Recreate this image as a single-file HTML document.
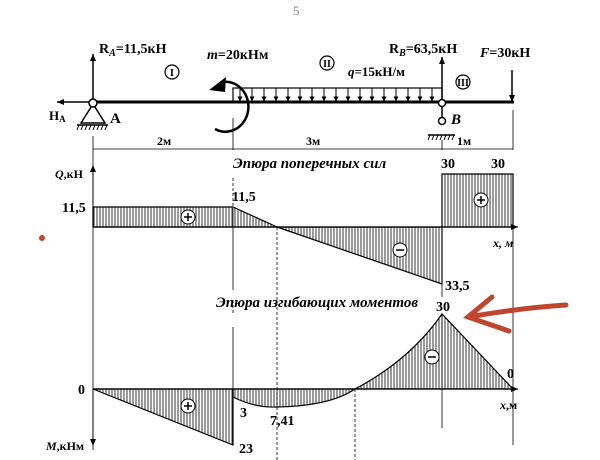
<!DOCTYPE html>
<html><head><meta charset="utf-8"><style>
html,body{margin:0;padding:0;background:#fff;width:600px;height:460px;overflow:hidden}
text{font-family:"Liberation Serif",serif;font-weight:bold;fill:#000}
</style></head><body>
<svg width="600" height="460" viewBox="0 0 600 460" xmlns="http://www.w3.org/2000/svg">
<defs>
<pattern id="h" width="3" height="10" patternUnits="userSpaceOnUse"><line x1="1" y1="0" x2="1" y2="10" stroke="#000" stroke-width="0.8"/></pattern>
<marker id="ar" markerWidth="8" markerHeight="8" refX="7" refY="4" orient="auto" markerUnits="userSpaceOnUse"><path d="M0,1 L7,4 L0,7 Z" fill="#000"/></marker>
<marker id="sa" markerWidth="5" markerHeight="5" refX="4.5" refY="2.5" orient="auto" markerUnits="userSpaceOnUse"><path d="M0,0 L5,2.5 L0,5 Z" fill="#000"/></marker>
</defs>
<text x="293" y="15" font-size="13" style="font-weight:normal;fill:#888">5</text>

<!-- beam -->
<line x1="93" y1="102" x2="514" y2="102" stroke="#000" stroke-width="3"/>
<line x1="93" y1="102" x2="57" y2="102" stroke="#000" stroke-width="1.5" marker-end="url(#ar)"/>
<line x1="93" y1="102" x2="93" y2="54" stroke="#000" stroke-width="1.5" marker-end="url(#ar)"/>
<path d="M93,104 L81,123 L105,123 Z" fill="none" stroke="#000" stroke-width="1.5"/>
<line x1="77" y1="125" x2="108" y2="125" stroke="#000" stroke-width="1.5"/>
<g stroke="#000" stroke-width="1"><line x1="79" y1="125" x2="77" y2="130"/><line x1="83" y1="125" x2="81" y2="130"/><line x1="87" y1="125" x2="85" y2="130"/><line x1="91" y1="125" x2="89" y2="130"/><line x1="95" y1="125" x2="93" y2="130"/><line x1="99" y1="125" x2="97" y2="130"/><line x1="103" y1="125" x2="101" y2="130"/><line x1="107" y1="125" x2="105" y2="130"/></g>
<circle cx="93" cy="103" r="4" fill="#fff" stroke="#000" stroke-width="1.5"/>
<!-- load -->
<rect x="233" y="88" width="209" height="14" fill="none" stroke="#000" stroke-width="1.2"/>
<g stroke="#000" stroke-width="1">
<line x1="240" y1="88" x2="240" y2="101" marker-end="url(#sa)"/><line x1="252" y1="88" x2="252" y2="101" marker-end="url(#sa)"/><line x1="264" y1="88" x2="264" y2="101" marker-end="url(#sa)"/><line x1="276" y1="88" x2="276" y2="101" marker-end="url(#sa)"/><line x1="288" y1="88" x2="288" y2="101" marker-end="url(#sa)"/><line x1="300" y1="88" x2="300" y2="101" marker-end="url(#sa)"/><line x1="312" y1="88" x2="312" y2="101" marker-end="url(#sa)"/><line x1="324" y1="88" x2="324" y2="101" marker-end="url(#sa)"/><line x1="336" y1="88" x2="336" y2="101" marker-end="url(#sa)"/><line x1="348" y1="88" x2="348" y2="101" marker-end="url(#sa)"/><line x1="360" y1="88" x2="360" y2="101" marker-end="url(#sa)"/><line x1="372" y1="88" x2="372" y2="101" marker-end="url(#sa)"/><line x1="384" y1="88" x2="384" y2="101" marker-end="url(#sa)"/><line x1="396" y1="88" x2="396" y2="101" marker-end="url(#sa)"/><line x1="408" y1="88" x2="408" y2="101" marker-end="url(#sa)"/><line x1="420" y1="88" x2="420" y2="101" marker-end="url(#sa)"/><line x1="432" y1="88" x2="432" y2="101" marker-end="url(#sa)"/>
</g>
<!-- moment -->
<path d="M215,129 A23,25 0 1 0 222,82" fill="none" stroke="#000" stroke-width="2.5"/>
<path d="M209,90 L226,77 L225,92 Z" fill="#000"/>
<!-- RB -->
<line x1="442" y1="102" x2="442" y2="57" stroke="#000" stroke-width="1.5" marker-end="url(#ar)"/>
<line x1="442" y1="104" x2="442" y2="119" stroke="#000" stroke-width="1.5"/>
<circle cx="442" cy="103" r="3.5" fill="#fff" stroke="#000" stroke-width="1.5"/>
<circle cx="442" cy="121" r="3.5" fill="#fff" stroke="#000" stroke-width="1.5"/>
<line x1="428" y1="135" x2="455" y2="135" stroke="#000" stroke-width="1.5"/>
<g stroke="#000" stroke-width="1"><line x1="430" y1="135" x2="428" y2="140"/><line x1="434" y1="135" x2="432" y2="140"/><line x1="438" y1="135" x2="436" y2="140"/><line x1="442" y1="135" x2="440" y2="140"/><line x1="446" y1="135" x2="444" y2="140"/><line x1="450" y1="135" x2="448" y2="140"/><line x1="454" y1="135" x2="452" y2="140"/></g>
<!-- F -->
<line x1="512" y1="70" x2="512" y2="102" stroke="#000" stroke-width="1.5" marker-end="url(#ar)"/>
<!-- dims -->
<g stroke="#000" stroke-width="0.8">
<line x1="93" y1="136" x2="93" y2="450"/><line x1="233" y1="118" x2="233" y2="150"/><line x1="442" y1="140" x2="442" y2="150"/><line x1="513" y1="110" x2="513" y2="150"/>
<line x1="93" y1="149" x2="513" y2="149"/>
</g>
<g font-size="14">
<text x="99" y="53">R<tspan font-size="10" font-style="italic" dy="3">A</tspan><tspan dy="-3">=11,5кН</tspan></text>
<text x="207" y="59"><tspan font-style="italic">m</tspan>=20кНм</text>
<text x="348" y="76" font-size="13"><tspan font-style="italic">q</tspan>=15кН/м</text>
<text x="389" y="53">R<tspan font-size="10" font-style="italic" dy="3">B</tspan><tspan dy="-3">=63,5кН</tspan></text>
<text x="480" y="57"><tspan font-style="italic">F</tspan>=30кН</text>
<text x="49" y="120" font-size="13">Н<tspan font-size="9" dy="2">А</tspan></text>
<text x="110" y="123" font-size="15">A</text>
<text x="451" y="124" font-size="15" font-style="italic">B</text>
<text x="157" y="145" font-size="12">2м</text>
<text x="306" y="145" font-size="12">3м</text>
<text x="457" y="145" font-size="12">1м</text>
</g>
<g stroke="#000" stroke-width="1.2">
<circle cx="172" cy="72" r="7" fill="#fff"/><circle cx="327" cy="63" r="7" fill="#fff"/><circle cx="463" cy="82" r="7" fill="#fff"/>
</g>
<g font-size="10" text-anchor="middle"><text x="172" y="76">I</text><text x="327" y="67">II</text><text x="463" y="86">III</text></g>

<!-- Q diagram -->
<line x1="233" y1="178" x2="233" y2="208" stroke="#000" stroke-width="0.8" stroke-dasharray="3,2"/>
<line x1="233" y1="208" x2="233" y2="290" stroke="#000" stroke-width="0.8"/>
<line x1="277" y1="227" x2="277" y2="460" stroke="#000" stroke-width="0.8" stroke-dasharray="3,2"/>
<line x1="442" y1="175" x2="442" y2="297" stroke="#000" stroke-width="0.8"/>
<line x1="513" y1="175" x2="513" y2="445" stroke="#000" stroke-width="0.8"/>
<path d="M93,227 L93,207 L233,207 L277,227 Z" fill="url(#h)" stroke="#000" stroke-width="1.2"/>
<path d="M277,227 L442,284 L442,227 Z" fill="url(#h)" stroke="#000" stroke-width="1.2"/>
<path d="M442,227 L442,174 L513,174 L513,227 Z" fill="url(#h)" stroke="#000" stroke-width="1.2"/>
<line x1="93" y1="227" x2="518" y2="227" stroke="#000" stroke-width="1.2" marker-end="url(#ar)"/>
<line x1="93" y1="227" x2="93" y2="165" stroke="#000" stroke-width="1" marker-end="url(#ar)"/>
<g fill="#fff" stroke="#000" stroke-width="1"><circle cx="188" cy="217" r="7"/><circle cx="400" cy="250" r="7"/><circle cx="481" cy="200" r="7"/></g>
<g stroke="#000" stroke-width="1.5"><line x1="184" y1="217" x2="192" y2="217"/><line x1="188" y1="213" x2="188" y2="221"/><line x1="396" y1="250" x2="404" y2="250"/><line x1="477" y1="200" x2="485" y2="200"/><line x1="481" y1="196" x2="481" y2="204"/></g>
<g font-size="14">
<text x="55" y="178" font-size="12"><tspan font-style="italic">Q</tspan>,кН</text>
<text x="233" y="168" font-style="italic" font-size="15">Эпюра поперечных сил</text>
<text x="62" y="212">11,5</text>
<text x="232" y="201">11,5</text>
<text x="441" y="168">30</text>
<text x="491" y="168">30</text>
<text x="445" y="290">33,5</text>
<text x="493" y="247" font-size="12" font-style="italic">x, м</text>
</g>

<!-- M diagram -->
<line x1="233" y1="300" x2="233" y2="315" stroke="#000" stroke-width="0.8" stroke-dasharray="3,2"/>
<line x1="233" y1="327" x2="233" y2="445" stroke="#000" stroke-width="0.8"/>
<line x1="355" y1="389" x2="355" y2="460" stroke="#000" stroke-width="0.8" stroke-dasharray="3,2"/>
<line x1="442" y1="314" x2="442" y2="428" stroke="#000" stroke-width="0.8"/>
<path d="M93,389 L233,445 L233,389 Z" fill="url(#h)" stroke="#000" stroke-width="1.2"/>
<path d="M233,389 L233,397 Q255,408 277,407 Q330,406 355,389 Z" fill="url(#h)" stroke="#000" stroke-width="1.2"/>
<path d="M355,389 Q410,360 442,314 L513,389 Z" fill="url(#h)" stroke="#000" stroke-width="1.2"/>
<line x1="93" y1="389" x2="518" y2="389" stroke="#000" stroke-width="1.2" marker-end="url(#ar)"/>
<line x1="93" y1="389" x2="93" y2="446" stroke="#000" stroke-width="1" marker-end="url(#ar)"/>
<g fill="#fff" stroke="#000" stroke-width="1"><circle cx="188" cy="406" r="7"/><circle cx="432" cy="357" r="7"/></g>
<g stroke="#000" stroke-width="1.5"><line x1="184" y1="406" x2="192" y2="406"/><line x1="188" y1="402" x2="188" y2="410"/><line x1="428" y1="357" x2="436" y2="357"/></g>
<g font-size="14">
<text x="216" y="307" font-style="italic" font-size="15">Эпюра изгибающих моментов</text>
<text x="436" y="311">30</text>
<text x="78" y="394">0</text>
<text x="507" y="378">0</text>
<text x="240" y="417">3</text>
<text x="270" y="425">7,41</text>
<text x="239" y="453">23</text>
<text x="500" y="409" font-size="12"><tspan font-style="italic">x</tspan>,м</text>
<text x="46" y="450" font-size="12"><tspan font-style="italic">M</tspan>,кНм</text>
</g>

<!-- red annotations -->
<circle cx="42" cy="238" r="3" fill="#c5442c"/>
<g stroke="#c0452e" stroke-width="5" stroke-linecap="round" fill="none">
<path d="M566,305 Q520,308 468,317"/>
<path d="M492,297 L468,317 L509,331"/>
</g>
</svg>
</body></html>
